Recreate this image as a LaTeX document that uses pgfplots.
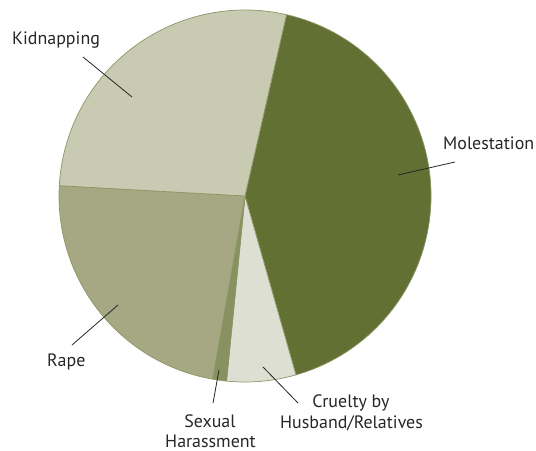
\documentclass[border=0pt]{standalone}
\usepackage{pgfplots}
\pgfplotsset{compat=1.18}
\usepackage{fontspec}
\setmainfont{PT Sans}
\definecolor{mol}{RGB}{99,112,52}
\definecolor{kid}{RGB}{200,202,178}
\definecolor{rap}{RGB}{165,168,130}
\definecolor{cru}{RGB}{222,223,211}
\definecolor{sex}{RGB}{136,146,96}
\definecolor{rim}{RGB}{140,150,100}
% shares in percent, clockwise from 77.1 degrees
\def\vMol{42.0}
\def\vCru{6.0}
\def\vSex{1.2}
\def\vRap{23.1}
\def\vKid{27.7}
\pgfmathsetmacro{\aA}{77.1}
\pgfmathsetmacro{\aB}{\aA-3.6*\vMol}
\pgfmathsetmacro{\aC}{\aB-3.6*\vCru}
\pgfmathsetmacro{\aD}{\aC-3.6*\vSex}
\pgfmathsetmacro{\aE}{\aD-3.6*\vRap}
\pgfmathsetmacro{\aF}{\aE-3.6*\vKid}
\begin{document}
\begin{tikzpicture}
\begin{axis}[
  scale only axis, width=536bp, height=451bp,
  xmin=0, xmax=536, ymin=0, ymax=451,
  hide axis, clip=false]
\path (rel axis cs:0,0) rectangle (rel axis cs:1,1);
\filldraw[mol, draw=rim, line width=0.7bp, line join=round] (axis cs:245,255) -- ++(\aA:186bp) arc[start angle=\aA, end angle=\aB, radius=186bp] -- cycle;
\filldraw[cru, draw=rim, line width=0.7bp, line join=round] (axis cs:245,255) -- ++(\aB:186bp) arc[start angle=\aB, end angle=\aC, radius=186bp] -- cycle;
\filldraw[sex, draw=rim, line width=0.7bp, line join=round] (axis cs:245,255) -- ++(\aC:186bp) arc[start angle=\aC, end angle=\aD, radius=186bp] -- cycle;
\filldraw[rap, draw=rim, line width=0.7bp, line join=round] (axis cs:245,255) -- ++(\aD:186bp) arc[start angle=\aD, end angle=\aE, radius=186bp] -- cycle;
\filldraw[kid, draw=rim, line width=0.7bp, line join=round] (axis cs:245,255) -- ++(\aE:186bp) arc[start angle=\aE, end angle=\aF, radius=186bp] -- cycle;
% leader lines
\draw[black!85, line width=0.8bp] (axis cs:83,394) -- (axis cs:132,354);
\draw[black!85, line width=0.8bp] (axis cs:455,289) -- (axis cs:398,276);
\draw[black!85, line width=0.8bp] (axis cs:72,106) -- (axis cs:118,146);
\draw[black!85, line width=0.8bp] (axis cs:213,48) -- (axis cs:219,81);
\draw[black!85, line width=0.8bp] (axis cs:298,48) -- (axis cs:263,84);
% labels
\begin{scope}[every node/.style={font=\fontsize{18}{20}\selectfont, text=black!85, inner sep=0pt}]
\node[anchor=base west] at (axis cs:12,406) {Kidnapping};
\node[anchor=base west] at (axis cs:443,301) {Molestation};
\node[anchor=base west] at (axis cs:47,84) {Rape};
\node[anchor=base] at (axis cs:210,24) {Sexual};
\node[anchor=base] at (axis cs:210.5,4) {Harassment};
\node[anchor=base] at (axis cs:351,43) {Cruelty by};
\node[anchor=base] at (axis cs:351.5,23) {Husband/Relatives};
\end{scope}
\end{axis}
\end{tikzpicture}
\end{document}
